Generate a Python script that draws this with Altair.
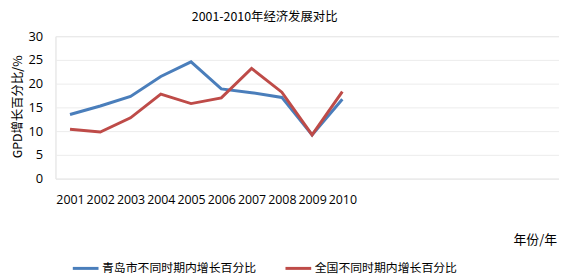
import altair as alt
import pandas as pd

years = [2001, 2002, 2003, 2004, 2005, 2006, 2007, 2008, 2009, 2010]
qingdao = [13.5, 15.3, 17.3, 21.5, 24.6, 18.9, 18.1, 17.1, 9.2, 16.7]
national = [10.4, 9.8, 12.8, 17.8, 15.8, 17.0, 23.2, 18.2, 9.2, 18.3]
series_names = ["青岛市不同时期内增长百分比", "全国不同时期内增长百分比"]
colors = ["#4a7ebb", "#be4b48"]
y_ticks = [0, 5, 10, 15, 20, 25, 30]

rows = []
for name, vals in zip(series_names, [qingdao, national]):
    for yr, v in zip(years, vals):
        rows.append({"year": yr, "value": v, "series": name})
df = pd.DataFrame(rows)

FONT = "Noto Sans CJK SC"

lines = alt.Chart(df).mark_line(strokeWidth=3).encode(
    x=alt.X("year:Q",
            scale=alt.Scale(domain=[2000.52, 2017.16], nice=False, zero=False),
            axis=alt.Axis(values=years, format="d", grid=False, domain=False, ticks=False,
                          labelFontSize=12.5, labelPadding=15, labelColor="#000",
                          labelFont="Open Sans", title=None)),
    y=alt.Y("value:Q",
            scale=alt.Scale(domain=[0, 30], nice=False),
            axis=alt.Axis(values=y_ticks, grid=True, gridColor="#ececec", domain=False,
                          ticks=False, labelFontSize=13, labelPadding=13, labelColor="#000",
                          labelFont="Open Sans",
                          title="GPD增长百分比/%", titleFont=FONT, titleFontSize=12.5,
                          titleFontWeight="normal", titleX=-38, titleY=71,
                          titleAngle=-90, titleAlign="center", titleBaseline="middle",
                          titleColor="#000")),
    color=alt.Color("series:N",
                    scale=alt.Scale(domain=series_names, range=colors),
                    sort=series_names,
                    legend=alt.Legend(title=None, orient="none", legendX=16, legendY=220,
                                      direction="horizontal", symbolType="stroke",
                                      symbolStrokeWidth=3, symbolSize=676,
                                      labelFont=FONT, labelFontSize=12, labelColor="#000",
                                      columnPadding=22, labelOffset=2, labelLimit=300)),
)

xlabel = alt.Chart(pd.DataFrame({"t": ["年份/年"]})).mark_text(
    font=FONT, fontSize=13, color="#000", align="center", baseline="middle"
).encode(text="t:N", x=alt.value(485), y=alt.value(206))

chart = alt.layer(lines, xlabel).properties(
    width=509, height=144,
    autosize=alt.AutoSizeParams(type="none"),
    padding={"left": 48, "top": 27, "right": 0, "bottom": 100},
    title=alt.Title("2001-2010年经济发展对比", font=FONT, fontSize=12.5,
                    fontWeight="normal", color="#000", anchor="middle",
                    frame="group", dx=-43, offset=7),
).configure_view(stroke=None).configure(background="white")

chart.save("out.html", embed_options={"renderer": "svg", "actions": False})
